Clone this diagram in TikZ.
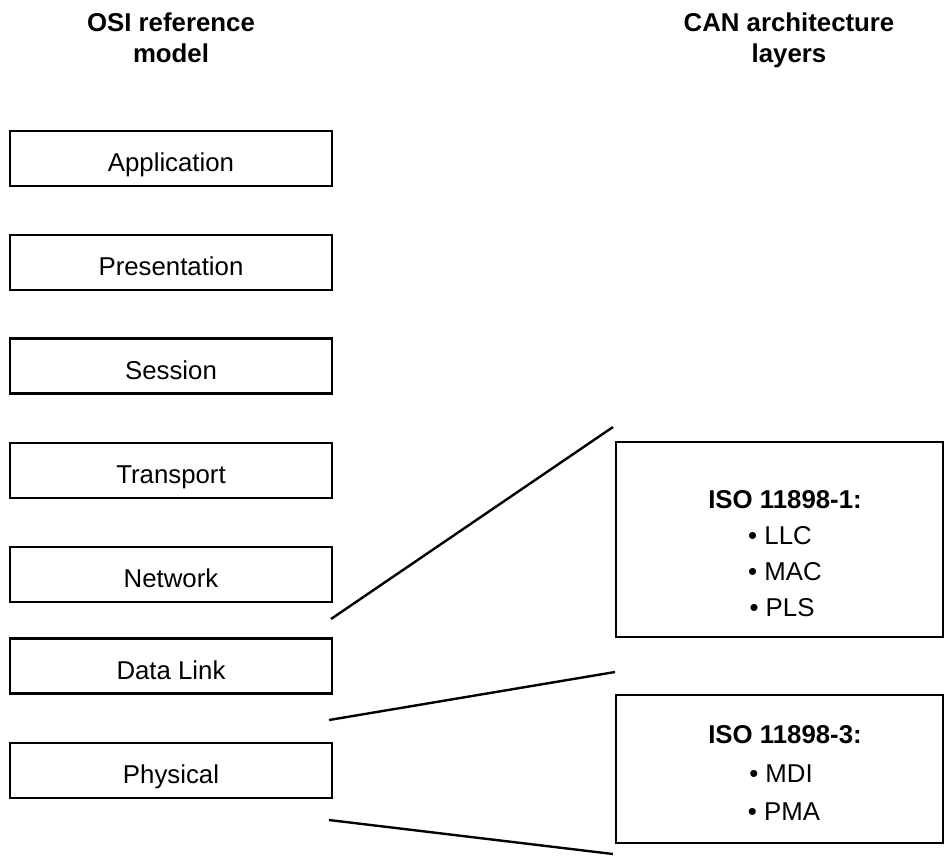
\documentclass[tikz,border=0pt]{standalone}
\usepackage{fontspec}
\setmainfont{Liberation Sans}
\begin{document}
\begin{tikzpicture}[x=1pt,y=-1pt,
  layer/.style={draw=black,line width=2.4pt,minimum width=322pt,minimum height=55pt,inner sep=0pt,text height=30pt,text depth=4pt,font=\fontsize{25.8}{30}\selectfont},
  canbox/.style={draw=black,line width=2.4pt,minimum width=327pt,inner sep=0pt},
  txt/.style={anchor=base,inner sep=0pt,font=\fontsize{25.8}{30}\selectfont},
  hdr/.style={anchor=base,inner sep=0pt,font=\fontsize{25.8}{30}\selectfont\bfseries},
  link/.style={line width=2.4pt}]
\useasboundingbox (0,0) rectangle (945,855);
% headers
\node[hdr] (h1a) at (171,31) {OSI reference};
\node[hdr] (h1b) at (171,62) {model};
\node[hdr] (h2a) at (789,31) {CAN architecture};
\node[hdr] (h2b) at (789,62) {layers};
% OSI layers
\node[layer] (app)  at (171,158.5) {Application};
\node[layer] (pres) at (171,262.5) {Presentation};
\node[layer] (sess) at (171,366)   {Session};
\node[layer] (trans) at (171,470.5) {Transport};
\node[layer] (net)  at (171,574.5) {Network};
\node[layer] (dl)   at (171,666)   {Data Link};
\node[layer] (phys) at (171,770.5) {Physical};
% CAN boxes
\node[canbox,minimum height=195pt] (iso1) at (779.5,539.5) {};
\node[hdr] (iso1t) at (785,508) {ISO 11898-1:};
\node[txt] (llc) at (780,544) {• LLC};
\node[txt] (mac) at (785,580) {• MAC};
\node[txt] (pls) at (782,616) {• PLS};
\node[canbox,minimum height=148pt] (iso3) at (779.5,769) {};
\node[hdr] (iso3t) at (785,743) {ISO 11898-3:};
\node[txt] (mdi) at (781,782) {• MDI};
\node[txt] (pma) at (784,820) {• PMA};
% connector lines
\coordinate (a1) at (331,619);
\coordinate (a2) at (613,427);
\coordinate (b1) at (329,720);
\coordinate (b2) at (615,672);
\coordinate (c1) at (329,820);
\coordinate (c2) at (613,854);
\draw[link] (a1) -- (a2);
\draw[link] (b1) -- (b2);
\draw[link] (c1) -- (c2);
\end{tikzpicture}
\end{document}
